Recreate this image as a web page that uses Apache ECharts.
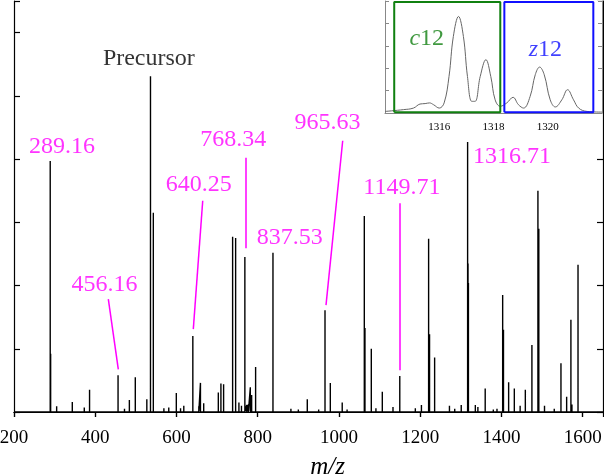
<!DOCTYPE html>
<html>
<head>
<meta charset="utf-8">
<script src="https://cdn.jsdelivr.net/npm/echarts@6/dist/echarts.min.js"></script>
<style>
  html, body { margin: 0; padding: 0; background: #fff; }
  #chart { width: 604px; height: 475px; }
</style>
</head>
<body>
<div id="chart"></div>
<script>
// main spectrum peaks (m/z, relative intensity)
const peakMz = [
  218, 289.16, 290.2, 305, 330, 343.5, 373, 376, 386, 420, 430, 456.16, 472, 484, 498.6,
  527, 536, 543, 560, 569, 581, 599.6, 610, 618, 640.25, 655, 659, 667, 690,
  703, 709.4, 716, 738.2, 745.6, 753.7, 760, 768.34, 773, 777, 781.8, 785, 794.8,
  837.53, 860, 881.7, 900, 922, 940, 950, 965.63, 978.7, 990, 1008, 1020, 1040,
  1062.4, 1064, 1079.6, 1091, 1106.7, 1120, 1133, 1149.71, 1160, 1188, 1203,
  1220.7, 1223, 1235.5, 1250, 1272, 1285, 1301, 1316.71, 1317.7, 1318.7, 1335.7,
  1342, 1360, 1380, 1389, 1403, 1405, 1417.7, 1431.7, 1446, 1458.8, 1475,
  1489.8, 1492, 1506, 1530, 1546.5, 1560.5, 1571, 1573.5, 1588.5, 1610
];
const peakInt = [
  0.03, 3.97, 0.92, 0.09, 0.02, 0.16, 0.07, 0.03, 0.35, 0.03, 0.02, 0.58, 0.05, 0.19, 0.55,
  0.2, 5.31, 3.15, 0.03, 0.06, 0.07, 0.3, 0.06, 0.1, 1.2, 0.09, 0.46, 0.14, 0.03,
  0.31, 0.45, 0.44, 2.77, 2.75, 0.15, 0.1, 2.45, 0.11, 0.12, 0.39, 0.27, 0.71,
  2.52, 0.03, 0.05, 0.04, 0.2, 0.03, 0.04, 1.61, 0.46, 0.03, 0.15, 0.04, 0.03,
  3.1, 1.33, 1.0, 0.06, 0.32, 0.03, 0.08, 0.57, 0.03, 0.06, 0.11,
  2.74, 1.23, 0.86, 0.03, 0.1, 0.05, 0.11, 4.27, 2.35, 2.04, 0.11,
  0.08, 0.37, 0.04, 0.05, 1.85, 1.3, 0.47, 0.37, 0.1, 0.35, 1.06,
  3.5, 2.9, 0.1, 0.05, 0.77, 0.24, 1.46, 0.12, 2.33, 0.02
];

// labelled peaks
const labelTexts = ['289.16', '456.16', '640.25', '768.34', '837.53', '965.63', '1149.71', '1316.71'];
const precursorText = 'Precursor';

// inset profile around 1316-1321
const insetMz = [
  1314.0, 1314.68, 1315.05, 1315.29, 1315.48, 1315.64, 1315.79, 1316.0, 1316.18, 1316.36,
  1316.52, 1316.71, 1316.89, 1317.04, 1317.2, 1317.32, 1317.51, 1317.72, 1317.9, 1318.06,
  1318.25, 1318.49, 1318.72, 1318.92, 1319.11, 1319.35, 1319.54, 1319.7, 1319.87, 1320.09,
  1320.28, 1320.52, 1320.73, 1320.95, 1321.14, 1321.45, 1322.0
];
const insetInt = [
  0.07, 0.15, 0.22, 0.4, 0.42, 0.45, 0.37, 0.22, 0.45, 1.63,
  3.42, 4.31, 3.42, 1.63, 0.52, 0.52, 1.63, 2.38, 1.63, 0.59,
  0.3, 0.45, 0.7, 0.37, 0.22, 0.74, 1.71, 2.05, 1.71, 0.59,
  0.27, 0.59, 1.04, 0.59, 0.22, 0.07, 0.04
];
const boxNames = ['c', 'z'];
const boxFrom = [1314.34, 1318.4];
const boxTo = [1318.25, 1321.68];

const serif = "'Liberation Serif', 'Times New Roman', Times, 'DejaVu Serif', serif";
const magenta = '#ff00ff';
const boxColors = ['#108010', '#1010ff'];

const chart = echarts.init(document.getElementById('chart'));

// sticks drawn as a single polyline back to baseline
const sticks = [[200, 0]];
peakMz.forEach((m, i) => {
  sticks.push([m, 0], [m, peakInt[i]], [m, 0]);
});
sticks.push([1650, 0]);

// where each label sits (data units) and its leader line, if any
const labelSpots = [
  { at: [318, 4.19] },
  { at: [423, 2.02], leader: [[432.2, 1.785], [456.8, 0.675]] },
  { at: [655, 3.59], leader: [[664.6, 3.34], [641.4, 1.31]] },
  { at: [740, 4.31], leader: [[770.5, 4.02], [770.5, 2.59]] },
  { at: [878.8, 2.75] },
  { at: [972, 4.57], leader: [[1009.2, 4.29], [968.1, 1.69]] },
  { at: [1155, 3.54], leader: [[1149.7, 3.30], [1149.7, 0.66]] },
  { at: [1426, 4.04] }
];

const labelData = labelTexts.map((t, i) => ({ value: labelSpots[i].at, name: t }));
labelData.push({ value: [532, 5.59], name: precursorText, label: { color: '#000' } });

const leaders = labelSpots.filter(s => s.leader).map(s => [
  { coord: s.leader[0] }, { coord: s.leader[1] }
]);

const boxSeries = boxNames.map((n, i) => ({
  type: 'line', xAxisIndex: 2, yAxisIndex: 2, z: 8,
  showSymbol: false, symbol: 'none',
  lineStyle: { color: boxColors[i], width: 2 },
  data: [
    [boxFrom[i], 0.03], [boxTo[i], 0.03], [boxTo[i], 4.96],
    [boxFrom[i], 4.96], [boxFrom[i], 0.03]
  ],
  label: { show: false }
}));

const boxLabels = [
  { value: [1315.54, 3.3], name: '{i|c}12', label: { color: boxColors[0] } },
  { value: [1319.91, 2.83], name: '{i|z}12', label: { color: boxColors[1] } }
];

const option = {
  animation: false,
  backgroundColor: '#fff',
  textStyle: { fontFamily: serif },
  grid: [
    { left: 14, top: 1, right: 1, bottom: 63, outerBoundsMode: 'none', containLabel: false },
    {
      left: 385, top: 1, right: 2, height: 112, outerBoundsMode: 'none', containLabel: false,
      show: true, backgroundColor: '#fff', borderWidth: 0, z: 5
    }
  ],
  xAxis: [
    {
      gridIndex: 0, type: 'value', min: 200, max: 1650, interval: 200,
      axisLine: { lineStyle: { color: '#000', width: 1.2 } },
      axisTick: { inside: false, length: 5, lineStyle: { color: '#000', width: 1.2 } },
      axisLabel: {
        fontFamily: serif, fontSize: 19, color: '#000', margin: 17,
        showMaxLabel: false,
        formatter: v => (v % 200 === 0 ? String(v) : '')
      },
      splitLine: { show: false },
      name: 'm/z', nameLocation: 'middle', nameGap: 43,
      nameTextStyle: { fontFamily: serif, fontStyle: 'italic', fontSize: 25, color: '#000', padding: [0, 0, 0, 38] }
    },
    {
      gridIndex: 0, type: 'value', position: 'top', min: 200, max: 1650, interval: 200,
      axisLine: { lineStyle: { color: '#000', width: 1.2 } },
      axisTick: { inside: true, length: 5, lineStyle: { color: '#000', width: 1.2 } },
      axisLabel: { show: false },
      splitLine: { show: false }
    },
    {
      gridIndex: 1, type: 'value', min: 1314, max: 1322, interval: 2,
      axisLine: { lineStyle: { color: '#888', width: 1 } },
      axisTick: { show: false },
      axisLabel: {
        fontFamily: serif, fontSize: 11, color: '#000', margin: 9,
        showMinLabel: false, showMaxLabel: false,
        formatter: v => String(v)
      },
      splitLine: { show: false },
      z: 6
    }
  ],
  yAxis: [
    {
      gridIndex: 0, type: 'value', min: 0, max: 6.5, interval: 1,
      axisLine: { show: true, lineStyle: { color: '#000', width: 1.2 } },
      axisTick: { show: true, inside: true, length: 6, lineStyle: { color: '#000', width: 1.2 } },
      axisLabel: { show: false },
      splitLine: { show: false }
    },
    {
      gridIndex: 0, type: 'value', position: 'right', min: 0, max: 6.5, interval: 1,
      axisLine: { show: true, lineStyle: { color: '#000', width: 1.2 } },
      axisTick: { show: true, inside: true, length: 6, lineStyle: { color: '#000', width: 1.2 } },
      axisLabel: { show: false },
      splitLine: { show: false }
    },
    {
      gridIndex: 1, type: 'value', min: 0, max: 5, interval: 1,
      axisLine: { show: true, lineStyle: { color: '#888', width: 1 } },
      axisTick: { show: true, inside: true, length: 4, lineStyle: { color: '#888' } },
      axisLabel: { show: false },
      splitLine: { show: false },
      z: 6
    },
    {
      gridIndex: 1, type: 'value', position: 'right', min: 0, max: 5, interval: 1,
      axisLine: { show: true, lineStyle: { color: '#888', width: 1 } },
      axisTick: { show: true, inside: true, length: 4, lineStyle: { color: '#888' } },
      axisLabel: { show: false },
      splitLine: { show: false },
      z: 6
    }
  ],
  series: [
    {
      type: 'line', xAxisIndex: 0, yAxisIndex: 0,
      data: sticks, showSymbol: false, symbol: 'none',
      lineStyle: { color: '#000', width: 1.4 },
      markLine: {
        silent: true, symbol: 'none',
        label: { show: false },
        lineStyle: { color: magenta, width: 1.5, type: 'solid' },
        data: leaders
      }
    },
    {
      type: 'scatter', xAxisIndex: 0, yAxisIndex: 0,
      data: labelData, symbolSize: 1, itemStyle: { color: 'rgba(0,0,0,0)' },
      label: {
        show: true, position: 'inside', formatter: p => p.name,
        fontFamily: serif, fontSize: 24, color: magenta
      }
    },
    {
      type: 'line', xAxisIndex: 2, yAxisIndex: 2, z: 7,
      data: insetMz.map((m, i) => [m, insetInt[i]]),
      smooth: 0.4, showSymbol: false, symbol: 'none',
      lineStyle: { color: '#666', width: 1 }
    },
    ...boxSeries,
    {
      type: 'scatter', xAxisIndex: 2, yAxisIndex: 2, z: 9,
      data: boxLabels, symbolSize: 1, itemStyle: { color: 'rgba(0,0,0,0)' },
      label: {
        show: true, position: 'inside', formatter: p => p.name,
        fontFamily: serif, fontSize: 24,
        rich: { i: { fontFamily: serif, fontStyle: 'italic', fontSize: 24 } }
      }
    }
  ]
};

chart.setOption(option);
</script>
</body>
</html>
